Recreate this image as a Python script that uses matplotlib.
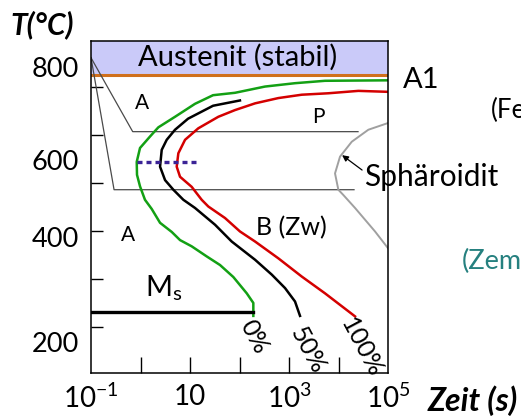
import matplotlib
matplotlib.use("Agg")
import matplotlib.pyplot as plt

plt.rcParams['font.family'] = ['Lato', 'DejaVu Sans']
plt.rcParams['mathtext.fontset'] = 'custom'
plt.rcParams['mathtext.rm'] = 'Lato'
plt.rcParams['mathtext.it'] = 'Lato:italic'

# ZTU curves: time (s), temperature (deg C)
green_t = [1e5, 5333, 1321, 327, 81.1, 29.2, 12.6, 4.98, 2.29, 1.56, 0.977, 0.838,
           0.849, 0.977, 1.23, 1.68, 2.48, 4.27, 6.28, 10.8, 21.7, 40.4, 75.0, 140, 190, 190]
green_T = [764, 763, 758, 751, 738, 733, 715, 688, 666, 647, 623, 594,
           567, 543, 515, 496, 467, 448, 431, 418, 397, 379, 354, 320, 300, 273]

black_t = [102, 29.2, 9.12, 4.98, 3.38, 2.68, 2.48, 3.13, 4.60, 7.33, 12.6, 32.0,
           69.5, 206, 448, 830, 1321, 1667]
black_T = [722, 711, 684, 661, 640, 619, 584, 556, 536, 515, 498, 463,
           428, 390, 359, 331, 303, 273]

red_t = [1e5, 25120, 6223, 1807, 608, 206, 81.1, 37.3, 14.7, 7.93, 5.81, 5.38,
         6.28, 10.8, 17.2, 23.4, 50.9, 102, 206, 608, 1807, 5333, 21530]
red_T = [740, 742, 737, 734, 727, 716, 702, 688, 664, 640, 612, 584,
         563, 542, 515, 501, 477, 449, 428, 393, 355, 320, 272]

sphero_t = [1e5, 40000, 18490, 10720, 8490, 9910, 12500, 21530, 54580, 1e5]
sphero_T = [675, 661, 636, 605, 570, 536, 525, 498, 449, 414]

# thin guide lines (A -> P and A -> B regions)
upper_t = [0.1, 0.695, 24770]
upper_T = [811, 657, 657]
lower_t = [0.1, 0.292, 20560]
lower_T = [811, 536, 536]

dot_t = [0.838, 15.0]
dot_T = [593, 593]

ms_t = [0.1, 190]
ms_T = [282, 282]

A1_T = 775
T_min, T_max = 154, 846

xtick_major = [1, 10, 100, 1000, 1e4]
xtick_major_lbl = ['', '10', '', '10$^{3}$', '']
xtick_minor = [0.1, 1e5]
xtick_minor_lbl = ['10$^{-1}$', '10$^{5}$']
ytick_marks = [250, 350, 450, 550, 650, 750]
ytick_lbl_pos = [219, 438, 598, 792]
ytick_lbl = ['200', '400', '600', '800']

green = '#13a014'
red = '#d40000'

fig = plt.figure(figsize=(5.21, 4.16), dpi=100)
ax = fig.add_axes([0.1747, 0.1034, 0.5701, 0.7981])
ax.set_xscale('log')
ax.set_xlim(0.1, 1e5)
ax.set_ylim(T_min, T_max)

ax.axhspan(A1_T, T_max, color='#cacaf9', zorder=0)
ax.axhline(A1_T, color='#d0701c', lw=2.2)

ax.plot(upper_t, upper_T, color='#4a4a4a', lw=0.9)
ax.plot(lower_t, lower_T, color='#4a4a4a', lw=0.9)
ax.plot(sphero_t, sphero_T, color='#a0a0a0', lw=1.4)
ax.plot(green_t, green_T, color=green, lw=1.8)
ax.plot(black_t, black_T, color='black', lw=1.8)
ax.plot(red_t, red_T, color=red, lw=1.8)
ax.plot(ms_t, ms_T, color='black', lw=2.4)
ax.plot(dot_t, dot_T, color='#3b2396', lw=2.4, linestyle=(0, (1.5, 1.2)))

ax.set_xticks(xtick_major)
ax.set_xticklabels(xtick_major_lbl)
ax.set_xticks(xtick_minor, minor=True)
ax.set_xticklabels(xtick_minor_lbl, minor=True)
ax.tick_params(axis='x', which='major', direction='in', length=11.5, width=1.0,
               labelsize=20, pad=8)
ax.tick_params(axis='x', which='minor', length=0, labelsize=20, pad=8)

ax.set_yticks(ytick_marks)
ax.set_yticklabels([''] * len(ytick_marks))
ax.set_yticks(ytick_lbl_pos, minor=True)
ax.set_yticklabels(ytick_lbl, minor=True)
ax.tick_params(axis='y', which='major', direction='in', length=8.5, width=1.0)
ax.tick_params(axis='y', which='minor', length=0, labelsize=19.5, pad=9)

for s in ax.spines.values():
    s.set_linewidth(1.1)

# labels inside the diagram
ax.text(91, 811, 'Austenit (stabil)', fontsize=21, ha='center', va='center')
ax.text(1.09, 716, 'A', fontsize=15, ha='center', va='center')
ax.text(3900, 688, 'P', fontsize=15, ha='center', va='center')
ax.text(0.55, 442, 'A', fontsize=15, ha='center', va='center')
ax.text(1.25, 313, 'M$_{\\mathrm{s}}$', fontsize=21, ha='left', va='baseline')
ax.text(1135, 456, 'B (Zw)', fontsize=18, ha='center', va='center')
ax.text(33000, 563, 'Sphäroidit', fontsize=21.5, ha='left', va='center', clip_on=False)
ax.annotate('', xy=(11800, 608), xytext=(29900, 577),
            arrowprops=dict(arrowstyle='-|>', color='black', lw=0.9,
                            mutation_scale=9, shrinkA=0, shrinkB=0))

for txt, t, T in [('0%', 196, 229), ('50%', 2420, 201), ('100%', 28500, 206)]:
    ax.text(t, T, txt, fontsize=18, rotation=-62, rotation_mode='anchor',
            ha='center', va='center', clip_on=False)

ax.text(2.0e5, 765, 'A1', fontsize=21, ha='left', va='center', clip_on=False)
ax.text(1.22e7, 702, '(Fe', fontsize=18.5, ha='left', va='center', clip_on=False)
ax.text(3.13e6, 386, '(Zem', fontsize=19.5, ha='left', va='center',
        color='#25807f', clip_on=False)

fig.text(10 / 521, 1 - 25 / 416, 'T(°C)', fontsize=21.5, fontweight='bold',
         fontstyle='italic', ha='left', va='center')
fig.text(428 / 521, 1 - 401 / 416, 'Zeit (s)', fontsize=23, fontweight='bold',
         fontstyle='italic', ha='left', va='center')

fig.savefig('out.png', dpi=100)
